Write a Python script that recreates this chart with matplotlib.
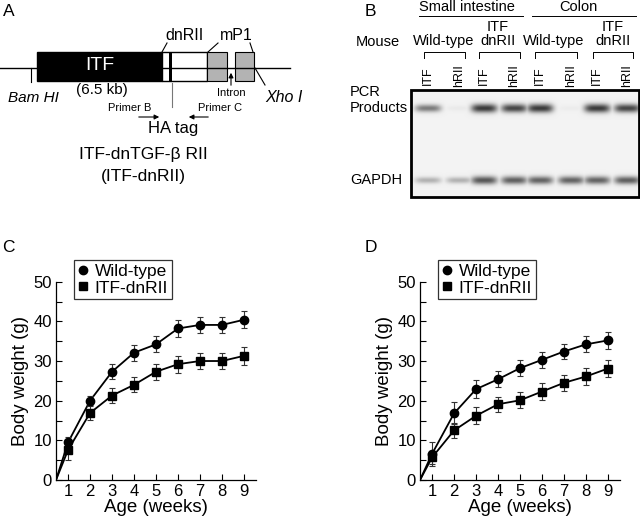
import numpy as np
import matplotlib
matplotlib.use('Agg')
import matplotlib.pyplot as plt
from matplotlib.lines import Line2D
from matplotlib.patches import Rectangle

plt.rcParams['font.family'] = ['Liberation Sans', 'DejaVu Sans']

# Body weight data (g)
ages = [1, 2, 3, 4, 5, 6, 7, 8, 9]
start_age = 0.45  # lines start at the origin of the drawn axes

wt_c = [9.5, 20.0, 27.3, 32.1, 34.2, 38.2, 39.1, 39.1, 40.4]
wt_c_err = [1.3, 1.2, 1.9, 2.0, 2.0, 2.2, 2.0, 2.1, 2.1]
tg_c = [7.6, 16.9, 21.3, 24.0, 27.3, 29.2, 30.0, 30.0, 31.3]
tg_c_err = [2.5, 1.8, 2.0, 1.9, 2.0, 2.1, 2.1, 2.1, 2.2]

wt_d = [6.6, 16.8, 22.9, 25.4, 28.2, 30.3, 32.4, 34.2, 35.2]
wt_d_err = [3.0, 2.8, 2.2, 2.0, 2.1, 2.0, 1.8, 2.0, 2.1]
tg_d = [5.7, 12.5, 16.2, 19.1, 20.1, 22.3, 24.5, 26.1, 28.1]
tg_d_err = [1.6, 1.8, 2.2, 1.9, 2.0, 2.1, 2.0, 2.1, 2.1]

series_names = ['Wild-type', 'ITF-dnRII']

# RT-PCR gel: lane labels and band darkness (0-1)
lane_labels = ['ITF', 'hRII', 'ITF', 'hRII', 'ITF', 'hRII', 'ITF', 'hRII']
pcr_bands = [0.55, 0.04, 0.85, 0.80, 0.85, 0.03, 0.85, 0.80]
gapdh_bands = [0.30, 0.30, 0.72, 0.68, 0.66, 0.66, 0.66, 0.68]

fig = plt.figure(figsize=(6.4, 5.2), dpi=100)

# overlay axes in pixel coordinates for panels A and B
ov = fig.add_axes([0, 0, 1, 1])
ov.set_xlim(0, 640)
ov.set_ylim(520, 0)
ov.axis('off')

# ---- Panel A: construct diagram ----
ov.text(9, 12, 'A', fontsize=12.5, ha='center', va='center')
ov.plot([0, 290], [68, 68], color='black', lw=1)
ov.add_patch(Rectangle((37, 52), 125, 29, facecolor='black', edgecolor='black', lw=1))
ov.add_patch(Rectangle((162, 52), 45, 29, facecolor='white', edgecolor='black', lw=1))
ov.add_patch(Rectangle((169, 52), 3, 29, facecolor='black', edgecolor='black', lw=0))
ov.add_patch(Rectangle((207, 52), 20, 29, facecolor='#b3b3b3', edgecolor='black', lw=0.8))
ov.add_patch(Rectangle((235, 52), 19, 29, facecolor='#b3b3b3', edgecolor='black', lw=0.8))
ov.text(100, 66, 'ITF', color='white', fontsize=14, ha='center', va='center')
ov.text(102, 90, '(6.5 kb)', fontsize=11, ha='center', va='center')
ov.plot([31, 31], [68, 82], color='black', lw=0.8)
ov.text(33, 98, 'Bam HI', fontsize=11, style='italic', ha='center', va='center')
ov.text(185, 35, 'dnRII', fontsize=11.5, ha='center', va='center')
ov.plot([162, 167], [52, 43], color='black', lw=0.8)
ov.text(236, 35, 'mP1', fontsize=11.5, ha='center', va='center')
ov.plot([208, 218], [52, 43], color='black', lw=0.8)
ov.plot([253, 250], [52, 43], color='black', lw=0.8)
ov.plot([255, 265], [68, 85], color='black', lw=0.8)
ov.text(284, 98, 'Xho I', fontsize=11.5, style='italic', ha='center', va='center')
ov.annotate('', xy=(231, 70), xytext=(231, 88),
            arrowprops=dict(arrowstyle='-|>', color='black', lw=0.8, mutation_scale=7))
ov.text(231, 93, 'Intron', fontsize=8, ha='center', va='center')
ov.plot([172, 172], [83, 107], color='#777777', lw=0.8)
ov.text(130, 108, 'Primer B', fontsize=8, ha='center', va='center')
ov.annotate('', xy=(162, 117), xytext=(136, 117),
            arrowprops=dict(arrowstyle='-|>', color='black', lw=0.8, mutation_scale=7))
ov.text(220, 108, 'Primer C', fontsize=8, ha='center', va='center')
ov.annotate('', xy=(186, 117), xytext=(211, 117),
            arrowprops=dict(arrowstyle='-|>', color='black', lw=0.8, mutation_scale=7))
ov.text(173, 128, 'HA tag', fontsize=12, ha='center', va='center')
ov.text(143, 155, 'ITF-dnTGF-β RII', fontsize=12.5, ha='center', va='center')
ov.text(143, 177, '(ITF-dnRII)', fontsize=12.5, ha='center', va='center')

# ---- Panel B: RT-PCR gel ----
ov.text(370, 12, 'B', fontsize=12.5, ha='center', va='center')
ov.text(467, 7, 'Small intestine', fontsize=10.5, ha='center', va='center')
ov.plot([419, 523], [16, 16], color='black', lw=0.7)
ov.text(578, 7, 'Colon', fontsize=10.5, ha='center', va='center')
ov.plot([532, 636], [16, 16], color='black', lw=0.7)
ov.text(378, 42, 'Mouse', fontsize=10.5, ha='center', va='center')
for cx, name in zip([444, 498, 554, 613], ['Wild-type', 'ITF\ndnRII', 'Wild-type', 'ITF\ndnRII']):
    ov.text(cx, 48, name, fontsize=10.5, ha='center', va='bottom', linespacing=1.0)
for x0, x1 in [(424, 465), (479, 520), (535, 577), (593, 633)]:
    ov.plot([x0, x0, x1, x1], [58, 52, 52, 58], color='black', lw=0.7)

lane_x = [428, 459, 484, 514, 540, 571, 597, 627]
for cx, lab in zip(lane_x, lane_labels):
    ov.text(cx, 76, lab, fontsize=9, rotation=90, ha='center', va='center')

ov.text(350, 92, 'PCR', fontsize=10.5, ha='left', va='center')
ov.text(350, 108, 'Products', fontsize=10.5, ha='left', va='center')
ov.text(350, 180, 'GAPDH', fontsize=10.5, ha='left', va='center')

gx0, gx1, gy0, gy1 = 411, 640, 90, 197
gx = np.arange(gx0, gx1, 0.5)
gy = np.arange(gy0, gy1, 0.5)
X, Y = np.meshgrid(gx, gy)
dark = np.zeros_like(X)
for cx, pv, gv in zip(lane_x, pcr_bands, gapdh_bands):
    for val, cy in [(pv, 108), (gv, 180)]:
        h = 2.5 + 2.2 * val
        band = val * np.exp(-((X - cx) / 13.0) ** 4) * np.exp(-((Y - cy) / h) ** 2)
        dark = np.maximum(dark, band)
gel = 0.95 - 0.85 * dark
ov.imshow(gel, cmap='gray', vmin=0, vmax=1, extent=[gx0, gx1, gy1, gy0],
          aspect='auto', interpolation='bilinear')
ov.add_patch(Rectangle((gx0, gy0), gx1 - gx0 - 1, gy1 - gy0, fill=False,
                       edgecolor='black', lw=2))
ov.set_xlim(0, 640)
ov.set_ylim(520, 0)

# ---- Panels C and D: body weight ----
def weight_panel(rect, wt, wt_err, tg, tg_err, legend_anchor):
    ax = fig.add_axes(rect)
    for vals, errs, mk, ms in [(wt, wt_err, 'o', 6), (tg, tg_err, 's', 6)]:
        ax.plot([start_age] + ages, [0] + vals, color='black', lw=1.3, zorder=2)
        ax.errorbar(ages, vals, yerr=errs, fmt=mk, color='black', ms=ms,
                    ecolor='#333333', elinewidth=0.8, capsize=2.5, capthick=0.8, zorder=3)
    ax.set_xlim(start_age, 9.55)
    ax.set_ylim(0, 50)
    ax.set_xticks(ages)
    ax.set_yticks([0, 10, 20, 30, 40, 50])
    ax.set_yticks(np.arange(5, 50, 10), minor=True)
    ax.tick_params(direction='in', length=4, width=0.8, labelsize=12, pad=3)
    ax.tick_params(which='minor', direction='in', length=4, width=0.8)
    for s in ['top', 'right']:
        ax.spines[s].set_visible(False)
    for s in ['left', 'bottom']:
        ax.spines[s].set_linewidth(0.9)
    ax.set_xlabel('Age (weeks)', fontsize=13.5, labelpad=0)
    ax.set_ylabel('Body weight (g)', fontsize=13.5, labelpad=3)
    handles = [Line2D([], [], marker='o', color='black', ls='none', ms=6),
               Line2D([], [], marker='s', color='black', ls='none', ms=6)]
    leg = fig.legend(handles, series_names, loc='upper left', bbox_to_anchor=legend_anchor,
                     bbox_transform=fig.transFigure, fontsize=12.5, frameon=True,
                     fancybox=False, handlelength=0.6, handletextpad=0.4,
                     borderpad=0.2, labelspacing=0.1, borderaxespad=0)
    leg.get_frame().set_edgecolor('black')
    leg.get_frame().set_linewidth(0.9)
    return ax

ax_c = weight_panel([56 / 640, 40 / 520, 200 / 640, 198.3 / 520],
                    wt_c, wt_c_err, tg_c, tg_c_err, (74 / 640, 1 - 260 / 520))
ax_d = weight_panel([420 / 640, 40 / 520, 200 / 640, 198.3 / 520],
                    wt_d, wt_d_err, tg_d, tg_d_err, (438 / 640, 1 - 260 / 520))

ov.text(8, 247, 'C', fontsize=12.5, ha='center', va='center')
ov.text(371, 247, 'D', fontsize=12.5, ha='center', va='center')

fig.savefig('out.png', dpi=100)
